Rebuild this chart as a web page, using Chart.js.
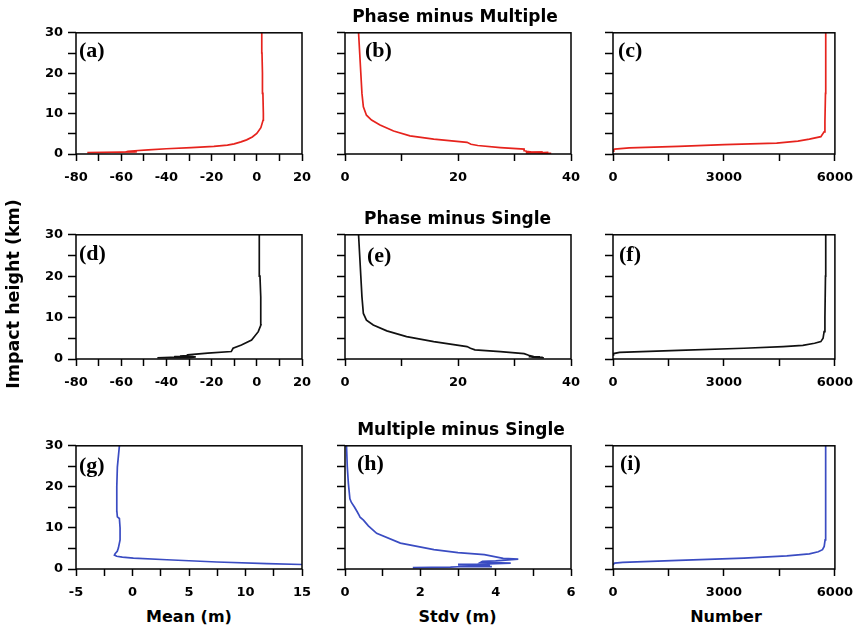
<!DOCTYPE html>
<html><head><meta charset="utf-8">
<script src="https://cdn.jsdelivr.net/npm/chart.js@4.4.1/dist/chart.umd.min.js"></script>
<style>
html,body{margin:0;padding:0;background:#fff;overflow:hidden;width:862px;height:631px;position:relative;}
canvas{position:absolute;}
.t{position:absolute;font-family:"DejaVu Sans";font-weight:bold;color:#000;white-space:nowrap;text-align:center;}
.p{position:absolute;font-family:"Liberation Serif";font-weight:bold;font-size:22px;line-height:22px;color:#000;white-space:nowrap;}
</style></head><body>
<script>
// ---------------- data ----------------
const groupTitles = ["Phase minus Multiple", "Phase minus Single", "Multiple minus Single"];
const panelLetters = ["(a)", "(b)", "(c)", "(d)", "(e)", "(f)", "(g)", "(h)", "(i)"];
const xTitles = ["Mean (m)", "Stdv (m)", "Number"];
const yTitle = "Impact height (km)";

const heightTicks = [0, 10, 20, 30];
const meanTicksTop = [-80, -60, -40, -20, 0, 20];
const stdvTicksTop = [0, 20, 40];
const numberTicks = [0, 3000, 6000];
const meanTicksBottom = [-5, 0, 5, 10, 15];
const stdvTicksBottom = [0, 2, 4, 6];

// (a) Phase minus Multiple – mean
const pmMeanH = [0.35, 0.4, 0.5, 0.45, 0.55, 0.5, 0.65, 0.8, 1.0, 1.3, 1.6, 1.9, 2.2, 2.5, 3.0, 3.5, 4.2, 5.1, 6.5, 8.4, 10, 15, 20, 25, 30];
const pmMean  = [-75, -68, -60, -55, -53, -58, -57, -54, -48, -40, -29, -19, -13, -10, -7, -4.5, -2, 0, 1.8, 2.8, 2.9, 2.7, 2.5, 2.3, 2.2];
// (b) Phase minus Multiple – stdv
const pmStdvH = [0.15, 0.25, 0.35, 0.3, 0.5, 0.45, 0.65, 0.8, 1.2, 1.6, 2.1, 2.4, 2.9, 3.7, 4.5, 5.7, 7.2, 8.4, 9.6, 11.7, 15, 20, 25, 30];
const pmStdv  = [36.5, 34, 36, 32, 35, 33, 32.2, 31.8, 31.7, 27.5, 23.5, 22.3, 21.6, 15.7, 11.5, 8.6, 6.2, 4.7, 3.8, 3.25, 3.0, 2.8, 2.6, 2.4];
// (c) Phase minus Multiple – number
const pmNumH = [0.7, 1.0, 1.2, 1.5, 1.9, 2.3, 2.7, 3.2, 3.7, 4.3, 5.5, 8, 15, 30];
const pmNum  = [0, 20, 44, 442, 1770, 3009, 4425, 5000, 5310, 5620, 5708, 5730, 5745, 5752];

// (d) Phase minus Single – mean
const psMeanH = [0.3, 0.4, 0.35, 0.5, 0.6, 0.55, 0.7, 0.8, 1.0, 1.4, 1.8, 2.6, 3.4, 4.6, 6.6, 8.2, 10, 15, 20, 25, 30];
const psMean  = [-44, -38, -30, -27, -36.5, -28, -34, -31, -30.6, -21.7, -11.3, -10.5, -6.8, -2.3, 0.65, 1.8, 1.8, 1.7, 1.4, 1.2, 1.0];
// (e) Phase minus Single – stdv
const psStdvH = [0.3, 0.45, 0.4, 0.55, 0.5, 0.6, 0.9, 1.3, 1.8, 2.2, 2.6, 3.0, 4.2, 5.4, 6.8, 8.2, 9.4, 11, 15, 20, 25, 30];
const psStdv  = [35.2, 33, 35, 32.5, 34.5, 33.4, 32.5, 31.7, 27.5, 23, 22.2, 21.6, 15.7, 10.9, 7.4, 5.0, 3.8, 3.25, 3.0, 2.8, 2.6, 2.4];
// (f) Phase minus Single – number
const psNumH = [1.0, 1.3, 1.6, 2.1, 2.6, 3.0, 3.3, 3.8, 4.2, 5.0, 6.6, 10, 20, 30];
const psNum  = [0, 15, 177, 1770, 3540, 4600, 5133, 5450, 5620, 5680, 5708, 5730, 5745, 5752];

// (g) Multiple minus Single – mean
const msMeanH = [1.0, 1.1, 1.3, 1.7, 2.25, 2.65, 2.9, 3.1, 3.4, 3.7, 4.3, 5.1, 7.1, 10, 12.3, 12.7, 14, 16.7, 20, 24.8, 30];
const msMean  = [16, 15, 11.9, 7.47, 3.04, 0.08, -0.9, -1.4, -1.6, -1.54, -1.35, -1.25, -1.1, -1.1, -1.16, -1.34, -1.38, -1.4, -1.38, -1.34, -1.16];
// (h) Multiple minus Single – stdv
const msStdvH = [0.35, 0.45, 0.55, 0.6, 0.75, 0.8, 1.0, 1.15, 1.2, 1.45, 1.6, 1.85, 2.0, 2.4, 2.6, 3.5, 4.0, 4.7, 6.3, 8.7, 10.5, 11.9, 12.6, 13.0, 14.0, 15.1, 16.2, 17.1, 20.8, 25, 30];
const msStdv  = [1.8, 2.8, 3.0, 3.9, 3.0, 3.85, 3.6, 3.0, 3.6, 4.4, 3.6, 3.65, 4.0, 4.6, 4.2, 3.7, 3.0, 2.36, 1.47, 0.84, 0.62, 0.49, 0.4, 0.38, 0.32, 0.25, 0.17, 0.13, 0.09, 0.06, 0.04];
// (i) Multiple minus Single – number
const msNumH = [1.0, 1.45, 1.6, 2.1, 2.65, 3.2, 3.7, 4.2, 4.7, 5.5, 7.1, 15, 30];
const msNum  = [0, 44, 265, 1770, 3540, 4700, 5310, 5550, 5664, 5710, 5735, 5748, 5752];

// ---------------- layout / style ----------------
const RED = "#e6231d", BLACK = "#111111", BLUE = "#3a4cc2";
const colLeft = [76, 345, 613], plotW = 226;
const rowTop = [32, 234, 445], rowH = [122, 125, 124];
const PADL = 70, PADT = 12, PADR = 23, PADB = 35;
const TICKFONT = {family: "DejaVu Sans", size: 13, weight: "bold"};

const framePlugin = {
  id: "frame",
  afterDraw(chart) {
    const a = chart.chartArea, ctx = chart.ctx;
    ctx.save();
    ctx.strokeStyle = "#000";
    ctx.lineWidth = 1.5;
    ctx.strokeRect(a.left, a.top, a.right - a.left, a.bottom - a.top);
    ctx.restore();
  }
};

function pairs(xs, hs) { return xs.map((v, i) => ({x: v, y: hs[i]})); }

function panel(row, col, xs, hs, color, xTicks) {
  const cv = document.createElement("canvas");
  const w = plotW + PADL + PADR, h = rowH[row] + PADT + PADB;
  cv.width = w; cv.height = h;
  cv.style.left = (colLeft[col] - PADL) + "px";
  cv.style.top = (rowTop[row] - PADT) + "px";
  cv.style.width = w + "px"; cv.style.height = h + "px";
  document.body.appendChild(cv);
  const xMajor = xTicks[1] - xTicks[0];
  const yMajor = heightTicks[1] - heightTicks[0];
  const isMajor = (v, m, base) => Math.abs(((v - base) / m) - Math.round((v - base) / m)) < 1e-6;
  new Chart(cv, {
    type: "scatter",
    data: {datasets: [{data: pairs(xs, hs), showLine: true, borderColor: color, borderWidth: 1.7,
      pointRadius: 0, tension: 0, fill: false}]},
    options: {
      responsive: false, animation: false, devicePixelRatio: 1,
      layout: {padding: {left: 0, top: PADT, right: PADR, bottom: 0}},
      plugins: {legend: {display: false}, tooltip: {enabled: false}},
      scales: {
        x: {type: "linear", min: xTicks[0], max: xTicks[xTicks.length - 1],
          afterFit: s => { s.height = PADB; },
          border: {display: false},
          grid: {drawOnChartArea: false, drawTicks: true, tickLength: 7, tickColor: "#000", tickWidth: 1.5},
          ticks: {stepSize: xMajor / 2, autoSkip: false, maxRotation: 0, color: "#000", font: TICKFONT, padding: 9,
            callback: v => isMajor(v, xMajor, xTicks[0]) ? String(v) : ""}},
        y: {type: "linear", min: heightTicks[0], max: heightTicks[heightTicks.length - 1],
          afterFit: s => { s.width = PADL; },
          border: {display: false},
          grid: {drawOnChartArea: false, drawTicks: true, tickLength: 8, tickColor: "#000", tickWidth: 1.5},
          ticks: {stepSize: yMajor / 2, autoSkip: false, color: "#000", font: TICKFONT, padding: 5,
            callback: v => (col === 0 && isMajor(v, yMajor, 0)) ? String(v) : ""}}
      }
    },
    plugins: [framePlugin]
  });
}

panel(0, 0, pmMean, pmMeanH, RED, meanTicksTop);
panel(0, 1, pmStdv, pmStdvH, RED, stdvTicksTop);
panel(0, 2, pmNum, pmNumH, RED, numberTicks);
panel(1, 0, psMean, psMeanH, BLACK, meanTicksTop);
panel(1, 1, psStdv, psStdvH, BLACK, stdvTicksTop);
panel(1, 2, psNum, psNumH, BLACK, numberTicks);
panel(2, 0, msMean, msMeanH, BLUE, meanTicksBottom);
panel(2, 1, msStdv, msStdvH, BLUE, stdvTicksBottom);
panel(2, 2, msNum, msNumH, BLUE, numberTicks);

// ---------------- text ----------------
function addText(txt, cls, css) {
  const d = document.createElement("div");
  d.className = cls; d.textContent = txt;
  Object.assign(d.style, css);
  document.body.appendChild(d);
  return d;
}
const titleCenters = [[455, 21.7], [457.5, 224], [461, 435]];
groupTitles.forEach((t, i) => addText(t, "t", {left: (titleCenters[i][0] - 150) + "px", top: (titleCenters[i][1] - 16) + "px",
  width: "300px", fontSize: "17px", lineHeight: "20px"}));
const xTitleCenters = [189, 457.5, 726];
xTitles.forEach((t, i) => addText(t, "t", {left: (xTitleCenters[i] - 100) + "px", top: "607px", width: "200px",
  fontSize: "16px", lineHeight: "20px"}));
addText(yTitle, "t", {left: (12.5 - 125) + "px", top: (294 - 10) + "px", width: "250px", height: "20px",
  fontSize: "17.5px", lineHeight: "20px", transform: "rotate(-90deg)"});
const letterPos = [[79, 51.7], [365, 51.7], [618, 51.7], [79, 255], [367, 256.7], [619, 256], [79, 466.7], [357, 465], [620, 465]];
panelLetters.forEach((t, i) => addText(t, "p", {left: letterPos[i][0] + "px", top: (letterPos[i][1] - 12.7) + "px"}));
</script>
</body></html>
